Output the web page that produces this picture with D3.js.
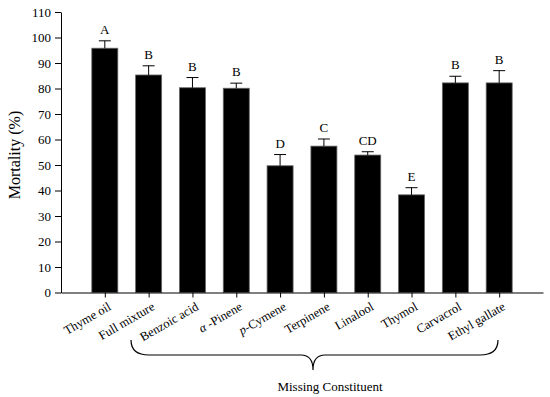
<!DOCTYPE html>
<html>
<head>
<meta charset="utf-8">
<script src="https://cdn.jsdelivr.net/npm/d3@7"></script>
<style>
  body { margin: 0; background: #fff; }
  text { font-family: 'Liberation Serif', 'Times New Roman', serif; fill: #000; }
</style>
</head>
<body>
<svg id="chart" width="550" height="397"></svg>
<script>
// data
var categories = ['Thyme oil', 'Full mixture', 'Benzoic acid', 'α -Pinene', 'p-Cymene',
                  'Terpinene', 'Linalool', 'Thymol', 'Carvacrol', 'Ethyl gallate'];
var mortality = [95.8, 85.3, 80.3, 80.1, 49.7, 57.4, 53.9, 38.3, 82.2, 82.2];
var errors    = [2.9, 3.6, 4.0, 2.0, 4.4, 2.8, 1.3, 2.8, 2.6, 4.8];
var letters   = ['A', 'B', 'B', 'B', 'D', 'C', 'CD', 'E', 'B', 'B'];
var yTicks    = [0, 10, 20, 30, 40, 50, 60, 70, 80, 90, 100, 110];

var svg = d3.select('#chart');

var x = d3.scaleLinear().domain([0, 11]).range([61, 543]);
var y = d3.scaleLinear().domain([0, 110]).range([292.5, 12]);
var barW = 26;

// bars
svg.selectAll('rect.bar').data(mortality).enter().append('rect')
  .attr('class', 'bar')
  .attr('x', function(d, i) { return x(i + 1) - barW / 2; })
  .attr('y', function(d) { return y(d); })
  .attr('width', barW)
  .attr('height', function(d) { return y(0) - y(d); })
  .attr('fill', '#000')
  .attr('stroke', '#666')
  .attr('stroke-width', 0.8);

// error bars (upper only)
var eb = svg.append('g').attr('stroke', '#000').attr('stroke-width', 1);
mortality.forEach(function(d, i) {
  var cx = x(i + 1);
  eb.append('line').attr('x1', cx).attr('x2', cx).attr('y1', y(d)).attr('y2', y(d + errors[i]));
  eb.append('line').attr('x1', cx - 6).attr('x2', cx + 6).attr('y1', y(d + errors[i])).attr('y2', y(d + errors[i]));
});

// significance letters
svg.selectAll('text.sig').data(letters).enter().append('text')
  .attr('class', 'sig')
  .attr('x', function(d, i) { return x(i + 1); })
  .attr('y', function(d, i) { return y(mortality[i] + errors[i]) - 7; })
  .attr('text-anchor', 'middle')
  .style('font-size', '13px')
  .text(function(d) { return d; });

// y axis
var yAxis = svg.append('g').attr('transform', 'translate(61,0)')
  .call(d3.axisLeft(y).tickValues(yTicks).tickSize(6).tickSizeOuter(0).tickPadding(4));
yAxis.selectAll('text').style('font-size', '13px').style('font-family', "'Liberation Serif', serif");

// x axis
var xAxis = svg.append('g').attr('transform', 'translate(0,' + y(0) + ')')
  .call(d3.axisBottom(x).tickValues(d3.range(1, 11)).tickSize(5).tickSizeOuter(0)
    .tickFormat(function(d) { return ''; }));
xAxis.selectAll('.tick').append('text')
  .attr('transform', 'translate(2,9) rotate(-30)')
  .attr('text-anchor', 'end')
  .attr('dy', '0.7em')
  .style('font-size', '12.5px')
  .style('font-family', "'Liberation Serif', serif")
  .attr('fill', '#000')
  .each(function(d) {
    var name = categories[d - 1];
    var t = d3.select(this);
    if (name === 'p-Cymene') {
      t.append('tspan').style('font-style', 'italic').text('p');
      t.append('tspan').text('-Cymene');
    } else if (name.charAt(0) === 'α') {
      t.append('tspan').style('font-style', 'italic').text('α');
      t.append('tspan').text(name.slice(1));
    } else {
      t.text(name);
    }
  });
svg.selectAll('.domain').attr('stroke', '#000');
svg.selectAll('.tick line').attr('stroke', '#000');

// y axis title
svg.append('text')
  .attr('transform', 'translate(20,155) rotate(-90)')
  .attr('text-anchor', 'middle')
  .style('font-size', '16px')
  .text('Mortality (%)');

// brace under the missing-constituent group
var bx0 = 131, bx1 = 498, bmid = 313, by = 355;
svg.append('path')
  .attr('d', 'M' + bx0 + ',340 Q' + bx0 + ',' + by + ' ' + (bx0 + 18) + ',' + by +
             ' L' + (bmid - 12) + ',' + by + ' Q' + bmid + ',' + by + ' ' + bmid + ',370' +
             ' Q' + bmid + ',' + by + ' ' + (bmid + 12) + ',' + by +
             ' L' + (bx1 - 18) + ',' + by + ' Q' + bx1 + ',' + by + ' ' + bx1 + ',340')
  .attr('fill', 'none').attr('stroke', '#000').attr('stroke-width', 1.2);

svg.append('text')
  .attr('x', 330).attr('y', 391)
  .attr('text-anchor', 'middle')
  .style('font-size', '13px')
  .text('Missing Constituent');
</script>
</body>
</html>
